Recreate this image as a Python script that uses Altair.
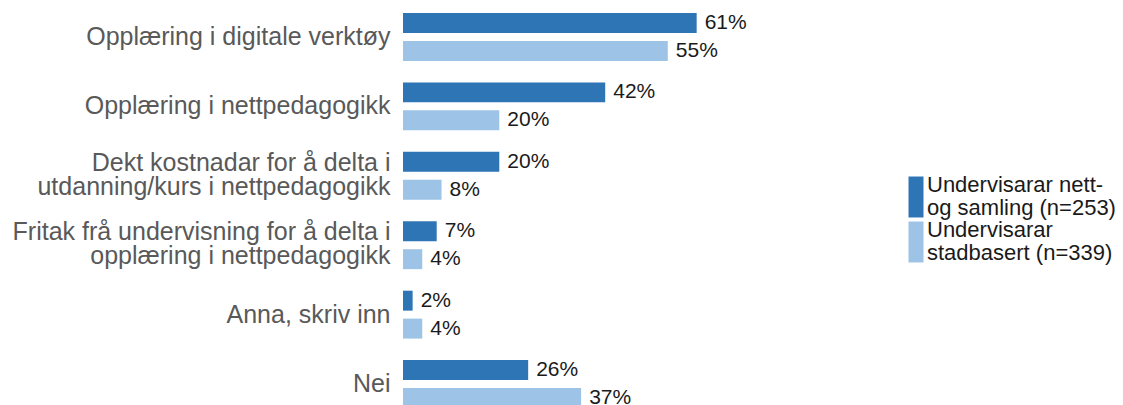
import altair as alt
import pandas as pd

categories = [
    "Opplæring i digitale verktøy",
    "Opplæring i nettpedagogikk",
    "Dekt kostnadar for å delta i|utdanning/kurs i nettpedagogikk",
    "Fritak frå undervisning for å delta i|opplæring i nettpedagogikk",
    "Anna, skriv inn",
    "Nei",
]
series = ["Undervisarar nett-|og samling (n=253)", "Undervisarar|stadbasert (n=339)"]
nett_samling = [61, 42, 20, 7, 2, 26]
stadbasert = [55, 20, 8, 4, 4, 37]
colors = ["#2E75B6", "#9DC3E6"]

rows = []
for c, a, b in zip(categories, nett_samling, stadbasert):
    rows.append({"cat": c, "series": series[0], "value": a})
    rows.append({"cat": c, "series": series[1], "value": b})
df = pd.DataFrame(rows)

FONT = "Liberation Sans"

y_enc = alt.Y(
    "cat:N",
    sort=categories,
    scale=alt.Scale(paddingInner=0.31, paddingOuter=0.072),
    axis=alt.Axis(
        title=None, domain=False, ticks=False, labelPadding=13,
        labelFontSize=25, labelColor="#595959", labelFont=FONT,
        labelLineHeight=24, labelLimit=600,
        labelBaseline={"condition": {"test": "indexof(datum.value, '|') >= 0", "value": "line-bottom"}, "value": "middle"},
        labelExpr="split(datum.label, '|')",
    ),
)
yoff = alt.YOffset("series:N", sort=series, scale=alt.Scale(paddingInner=0.286, paddingOuter=0))
x_enc = alt.X("value:Q", scale=alt.Scale(domain=[0, 70]), axis=None)

bars = alt.Chart(df).mark_bar().encode(
    y=y_enc,
    yOffset=yoff,
    x=x_enc,
    color=alt.Color(
        "series:N",
        sort=series,
        scale=alt.Scale(domain=series, range=colors),
        legend=alt.Legend(
            title=None, orient="none", legendX=502, legendY=178,
            symbolType="M-1,-2.73H1V2.73H-1Z", symbolSize=225,
            symbolStrokeWidth=0, symbolOpacity=1,
            labelFontSize=22, labelFont=FONT, labelColor="#1a1a1a",
            labelBaseline="line-bottom",
            labelOffset=0, rowPadding=0, padding=0,
            labelLimit=400,
            labelExpr="split(datum.label, '|')",
        ),
    ),
)

text = alt.Chart(df).transform_calculate(
    lbl="datum.value + '%'"
).mark_text(
    align="left", baseline="middle", dx=8, fontSize=21, font=FONT, color="#1a1a1a"
).encode(
    y=alt.Y("cat:N", sort=categories),
    yOffset=alt.YOffset("series:N", sort=series),
    x=alt.X("value:Q"),
    text="lbl:N",
)

chart = alt.layer(bars, text).properties(
    width=337,
    height=405,
    padding={"left": 395, "top": 0, "right": 375, "bottom": 0},
    autosize=alt.AutoSizeParams(type="none"),
).configure(
    background="white",
    view=alt.ViewConfig(stroke=None),
    style={"guide-label": {"lineHeight": 22.5}},
)

chart.save("out.html", embed_options={"renderer": "svg", "actions": False})
